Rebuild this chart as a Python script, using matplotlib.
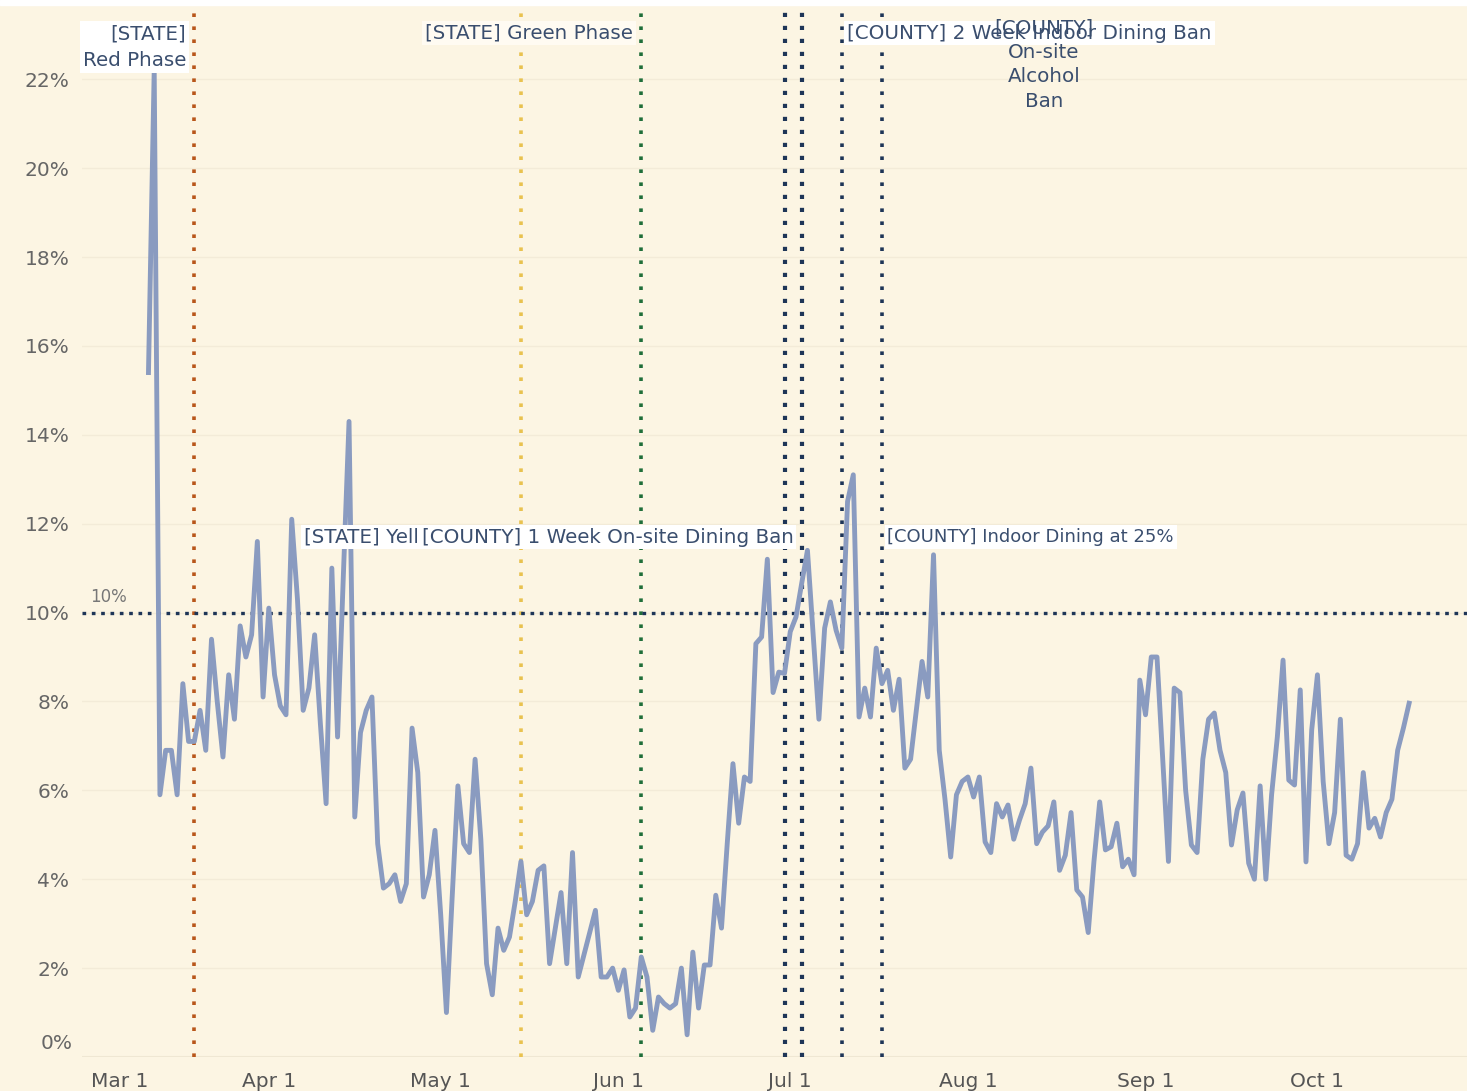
import matplotlib
matplotlib.use('Agg')
import matplotlib.pyplot as plt
import pandas as pd

# daily test positivity (%), Mar 11 - Oct 17
mar = [15.4, 22.2, 5.9, 6.9, 6.9, 5.9, 8.4, 7.1, 7.1, 7.8, 6.9, 9.4, 8.0, 6.75,
       8.6, 7.6, 9.7, 9.0, 9.5, 11.6, 8.1]
apr = [10.1, 8.6, 7.9, 7.7, 12.1, 10.3, 7.8, 8.3, 9.5, 7.5, 5.7, 11.0, 7.2, 10.8,
       14.3, 5.4, 7.3, 7.8, 8.1, 4.8, 3.8, 3.9, 4.1, 3.5, 3.9, 7.4, 6.4, 3.6, 4.1, 5.1]
may = [3.2, 1.0, 3.6, 6.1, 4.8, 4.6, 6.7, 4.9, 2.1, 1.4, 2.9, 2.4, 2.7, 3.5, 4.4,
       3.2, 3.5, 4.2, 4.3, 2.1, 2.9, 3.7, 2.1, 4.6, 1.8, 2.3, 2.8, 3.3, 1.8, 1.8, 2.0]
jun = [1.5, 1.96, 0.9, 1.1, 2.25, 1.8, 0.6, 1.35, 1.2, 1.1, 1.2, 2.0, 0.5, 2.36,
       1.1, 2.07, 2.07, 3.64, 2.9, 4.8, 6.6, 5.26, 6.3, 6.2, 9.3, 9.45, 11.2, 8.2,
       8.66, 8.63]
jul = [9.57, 9.9, 10.66, 11.4, 9.5, 7.6, 9.65, 10.24, 9.6, 9.2, 12.5, 13.1, 7.65,
       8.3, 7.65, 9.2, 8.4, 8.7, 7.8, 8.5, 6.5, 6.7, 7.8, 8.9, 8.1, 11.3, 6.9, 5.8,
       4.5, 5.9, 6.2]
aug = [6.3, 5.85, 6.3, 4.84, 4.6, 5.7, 5.4, 5.67, 4.9, 5.33, 5.7, 6.5, 4.8, 5.06,
       5.2, 5.74, 4.2, 4.54, 5.5, 3.76, 3.6, 2.8, 4.4, 5.74, 4.66, 4.73, 5.26, 4.28,
       4.45, 4.1, 8.48]
sep = [7.7, 9.0, 9.0, 6.7, 4.4, 8.3, 8.2, 6.0, 4.77, 4.6, 6.7, 7.6, 7.74, 6.9, 6.4,
       4.77, 5.56, 5.94, 4.36, 4.0, 6.1, 4.0, 5.9, 7.2, 8.93, 6.23, 6.12, 8.26, 4.39,
       7.36]
octo = [8.6, 6.2, 4.8, 5.5, 7.6, 4.54, 4.45, 4.8, 6.4, 5.15, 5.37, 4.95, 5.5, 5.8,
        6.9, 7.4, 7.96]

rate = mar + apr + may + jun + jul + aug + sep + octo
dates = pd.date_range('2020-03-11', periods=len(rate), freq='D')

# policy events
event_dates = ['2020-03-19', '2020-05-15', '2020-06-05', '2020-06-30',
               '2020-07-03', '2020-07-10', '2020-07-17']
event_colors = ['#B8561A', '#E9C24F', '#1F6E3A', '#1E3557', '#1E3557', '#1E3557', '#1E3557']
threshold = 10

bg = '#FCF5E3'
txt = '#3A4E6E'
fs = 14.3

fig = plt.figure(figsize=(14.67, 10.91), dpi=100, facecolor=bg)
ax = fig.add_axes([82 / 1467, 1 - 1057 / 1091, 1 - 82 / 1467, 1052 / 1091])
ax.set_facecolor(bg)
fig.patches.append(plt.Rectangle((0, 1 - 5 / 1091), 1, 5 / 1091, transform=fig.transFigure,
                                 color='white', zorder=0))

apr1 = pd.Timestamp('2020-04-01')
ax.set_xlim(apr1 - pd.Timedelta(days=32.6), apr1 + pd.Timedelta(days=209.1))
ax.set_ylim(0, 23.67)

for s in ax.spines.values():
    s.set_visible(False)
ax.set_yticks(range(2, 23, 2))
ax.set_yticklabels([f'{v}%' for v in range(2, 23, 2)], color='#666666', fontsize=14.5)
ax.grid(axis='y', color='#F3EBD8', lw=1)
ax.axhline(0, color='#EFE7D3', lw=1.5)
ax.text(-0.007, 0.3, '0%', transform=ax.get_yaxis_transform(), ha='right', va='center',
        color='#666666', fontsize=14.5)

months = pd.date_range('2020-03-01', '2020-10-01', freq='MS')
ax.set_xticks(months)
ax.set_xticklabels([f'{m:%b} 1' for m in months], color='#555555', fontsize=14.5)
ax.get_xticklabels()[0].set_ha('left')
ax.tick_params(length=0)
ax.tick_params(axis='y', pad=9)
ax.tick_params(axis='x', pad=11)

ax.plot(dates, rate, color='#8A9BC0', lw=3.5, solid_joinstyle='round', zorder=3)

for i, (d, c) in enumerate(zip(event_dates, event_colors)):
    lw = 3.0 if i in (3, 4) else 2.6
    ax.axvline(pd.Timestamp(d), color=c, lw=lw, ls=(0, (1, 13 / (lw / 0.72) - 1)), zorder=2)
ax.axhline(threshold, color='#1E3557', lw=2.4, ls=(0, (1.1, 1.7)), zorder=2)
ax.text(pd.Timestamp('2020-02-29 18:00'), 10.35, '10%', color='#777777', fontsize=12,
        va='center')

box = dict(boxstyle='square,pad=0.15', fc='white', ec='none')
boxsoft = dict(boxstyle='square,pad=0.15', fc='#FFFBF2', ec='none')


def label(d, y, s, dx, ha, va='center', bbox=box, size=fs, z=5, **kw):
    ax.annotate(s, xy=(pd.Timestamp(d), y), xytext=(dx, 0), textcoords='offset points',
                ha=ha, va=va, color=txt, fontsize=size, bbox=bbox, zorder=z, **kw)


label(event_dates[0], 23.24, '[STATE]\nRed Phase', -6, 'right', va='top',
      multialignment='right', linespacing=1.5)
label(event_dates[2], 23.04, '[STATE] Green Phase', -6, 'right', bbox=boxsoft)
label(event_dates[5], 23.04, '[COUNTY] 2 Week Indoor Dining Ban', 4, 'left')
label('2020-08-14 06:00', 23.36, '[COUNTY]\nOn-site\nAlcohol\nBan', 0, 'center', va='top',
      bbox=None, z=6, multialignment='center', linespacing=1.35)
label(event_dates[1], 11.7, '[STATE] Yellow Phase', -6, 'right', z=4)
label(event_dates[4], 11.7, '[COUNTY] 1 Week On-site Dining Ban', -6, 'right', z=5)
label(event_dates[6], 11.7, '[COUNTY] Indoor Dining at 25%', 4, 'left', size=13)

fig.savefig('out.png', dpi=100, facecolor=bg)
